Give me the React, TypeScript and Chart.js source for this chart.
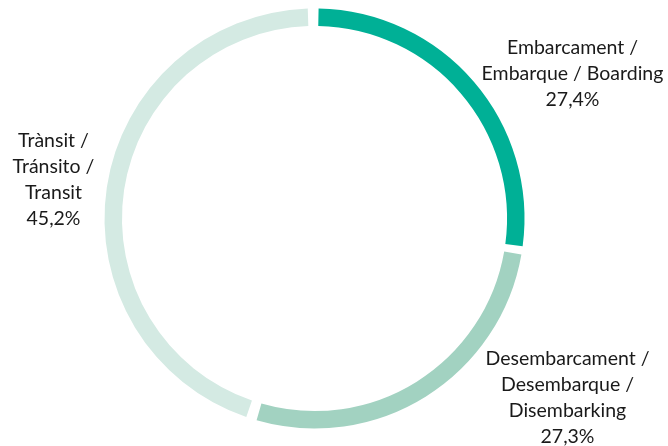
import React, { useEffect, useRef } from "react";
import { Chart, registerables } from "chart.js";

Chart.register(...registerables);

const categories = ["Embarcament / Embarque / Boarding", "Desembarcament / Desembarque / Disembarking", "Trànsit / Tránsito / Transit"];
const values = [27.4, 27.3, 45.2];
const valueLabels = ["27,4%", "27,3%", "45,2%"];
const labelLines = [
  ["Embarcament /", "Embarque / Boarding"],
  ["Desembarcament /", "Desembarque /", "Disembarking"],
  ["Trànsit /", "Tránsito /", "Transit"],
];
const colors = ["#00B096", "#A2D2C1", "#D4EAE3"];

const labelPlugin = {
  id: "sliceLabels",
  afterDraw(chart: any) {
    const ctx = chart.ctx;
    const meta = chart.getDatasetMeta(0);
    const arc = meta.data[0];
    const cx = arc.x;
    const cy = arc.y;
    const offsets = [
      [258, -171],
      [253, 140],
      [-261, -78],
    ];
    ctx.save();
    ctx.font = "19.5px Lato, 'Open Sans', sans-serif";
    ctx.fillStyle = "#1a1a1a";
    ctx.textAlign = "center";
    ctx.textBaseline = "middle";
    const lh = 26;
    labelLines.forEach((lines, i) => {
      const all = [...lines, valueLabels[i]];
      const x = cx + offsets[i][0];
      const y0 = cy + offsets[i][1];
      all.forEach((t, j) => ctx.fillText(t, x, y0 + j * lh));
    });
    ctx.restore();
  },
};

export default function App() {
  const ref = useRef<HTMLCanvasElement>(null);
  useEffect(() => {
    const chart = new Chart(ref.current!, {
      type: "doughnut",
      data: {
        labels: categories,
        datasets: [
          {
            data: values,
            backgroundColor: colors,
            borderWidth: 0,
            spacing: 9,
          },
        ],
      },
      options: {
        animation: false,
        responsive: false,
        cutout: "91.5%",
        layout: { padding: { left: 104.5, top: 8.5, right: 143.5, bottom: 17.5 } },
        plugins: { legend: { display: false }, tooltip: { enabled: false } },
      },
      plugins: [labelPlugin],
    });
    return () => chart.destroy();
  }, []);
  return (
    <div style={{ position: "fixed", left: 0, top: 0, width: 668, height: 446, background: "#fff" }}>
      <canvas ref={ref} width={668} height={446} />
    </div>
  );
}
